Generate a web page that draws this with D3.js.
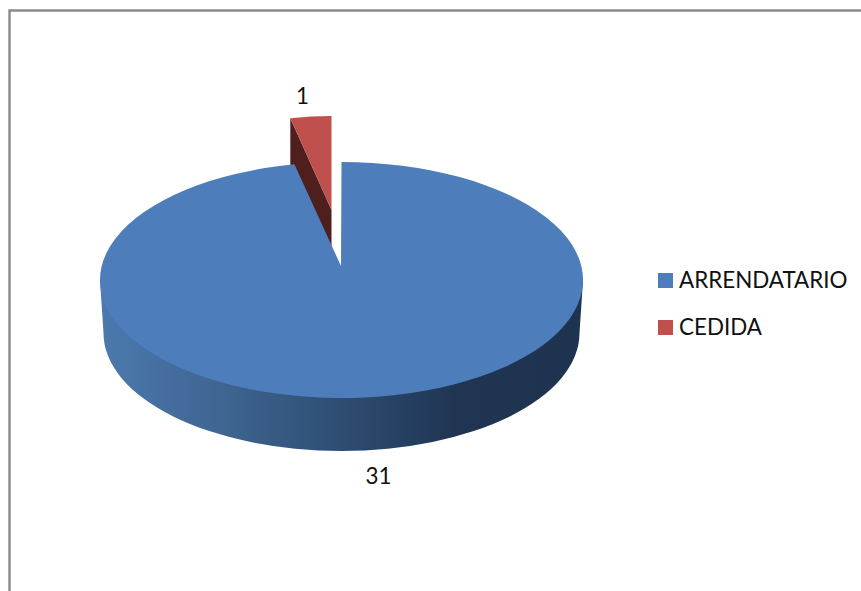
<!DOCTYPE html>
<html>
<head>
<meta charset="utf-8">
<script src="https://cdnjs.cloudflare.com/ajax/libs/d3/7.8.5/d3.min.js"></script>
<style>
	html, body { margin: 0; padding: 0; background: #fff; overflow: hidden; }
	text { font-family: Lato, "Open Sans", sans-serif; fill: #111; }
</style>
</head>
<body>
<svg width="861" height="591"></svg>
<script>
const categories = ["ARRENDATARIO", "CEDIDA"];
const values = [31, 1];
const colors = ["#4d7ebb", "#c0504d"];
const sideColors = ["#4a77ab", "#4f1f1e"];

const svg = d3.select("svg");
const depth = 53;

// chart frame, cut off by the right and bottom of the picture
svg.append("path")
	.attr("d", "M9.5,591V10.5H861")
	.attr("fill", "none")
	.attr("stroke", "#8a8a8a")
	.attr("stroke-width", 2.4);

const pie = d3.pie().sort(null).value(d => d)(values);

// each slice: ellipse centre, ellipse radii and the tip of the wedge
const shapes = [
	{ cx: 341.5, cy: 280, rx: 241.5, ry: 118, tipX: 341, tipY: 266 },
	{ cx: 331.5, cy: 234, rx: 211, ry: 118, tipX: 331.5, tipY: 210 },
];

function rim(s, a) {
	return [s.cx + s.rx * Math.sin(a), s.cy - s.ry * Math.cos(a)];
}

function topFace(s, d) {
	const p0 = rim(s, d.startAngle);
	const p1 = rim(s, d.endAngle);
	const large = d.endAngle - d.startAngle > Math.PI ? 1 : 0;
	return `M${s.tipX},${s.tipY}L${p0}A${s.rx},${s.ry} 0 ${large} 1 ${p1}Z`;
}

// red slice goes first, the blue one covers the lower part of its cut side
const red = shapes[1];
const redRim = rim(red, pie[1].startAngle);
svg.append("path")
	.attr("d", d3.line()([
		redRim,
		[red.tipX, red.tipY],
		[red.tipX, red.tipY + depth],
		[redRim[0], redRim[1] + depth],
	]))
	.attr("fill", sideColors[1]);
svg.append("path").attr("d", topFace(red, pie[1])).attr("fill", colors[1]);

// outer wall of the blue slice
const grad = svg.append("defs").append("linearGradient")
	.attr("id", "wall")
	.attr("gradientUnits", "userSpaceOnUse")
	.attr("x1", 100).attr("x2", 583).attr("y1", 0).attr("y2", 0);
[[0, "#4b79ae"], [0.25, "#3f6592"], [0.5, "#2e4d72"], [0.74, "#1f3552"], [1, "#1e334f"]]
	.forEach(s => grad.append("stop").attr("offset", s[0]).attr("stop-color", s[1]));

const blue = shapes[0];
svg.append("path")
	.attr("d", `M${blue.cx - blue.rx},${blue.cy}L${blue.cx - 238},${blue.cy + depth}` +
		`A238,${blue.ry} 0 0 0 ${blue.cx + 238},${blue.cy + depth}` +
		`L${blue.cx + blue.rx},${blue.cy}Z`)
	.attr("fill", "url(#wall)");
svg.append("path").attr("d", topFace(blue, pie[0])).attr("fill", colors[0]);

// data labels
const labelPos = [[378.5, 484], [302.5, 104]];
svg.selectAll(".value")
	.data(values)
	.join("text")
	.attr("class", "value")
	.attr("x", (d, i) => labelPos[i][0])
	.attr("y", (d, i) => labelPos[i][1])
	.attr("text-anchor", "middle")
	.attr("font-size", 22.4)
	.text(d => d);

// legend
const legendY = d3.scalePoint().domain(categories).range([273, 320]);
const legend = svg.selectAll(".legend")
	.data(categories)
	.join("g")
	.attr("class", "legend")
	.attr("transform", d => `translate(658,${legendY(d)})`);
legend.append("rect")
	.attr("width", 15)
	.attr("height", 15)
	.attr("fill", (d, i) => colors[i]);
legend.append("text")
	.attr("x", 21)
	.attr("y", 15)
	.attr("font-size", 22.4)
	.text(d => d);
</script>
</body>
</html>
